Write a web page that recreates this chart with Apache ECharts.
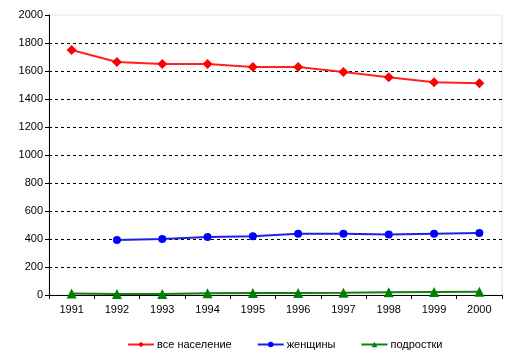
<!DOCTYPE html>
<html><head><meta charset="utf-8">
<script src="https://cdn.jsdelivr.net/npm/echarts@6/dist/echarts.min.js"></script>
<style>html,body{margin:0;padding:0;background:#fff}#c{width:517px;height:362px}</style>
</head><body><div id="c"></div>
<script>
const years = ['1991','1992','1993','1994','1995','1996','1997','1998','1999','2000'];
const allPop = [1750, 1664, 1650, 1650, 1628, 1628, 1593, 1555, 1519, 1512];
const women = [null, 393, 400, 414, 420, 438, 438, 433, 438, 443];
const teens = [10, 8, 8, 12, 14, 15, 16, 20, 22, 24];
const names = ['все население', 'женщины', 'подростки'];

const font = 'Liberation Sans, Arial, sans-serif';
const chart = echarts.init(document.getElementById('c'), null, {renderer: 'canvas'});
chart.setOption({
  animation: false,
  backgroundColor: '#fff',
  grid: {left: 49, right: 15, top: 15, bottom: 67, show: true, borderColor: '#e4e4e4', borderWidth: 1, backgroundColor: 'transparent'},
  legend: {
    top: 339, left: 127, itemWidth: 26, itemHeight: 7, itemGap: 25,
    padding: 0,
    textStyle: {fontFamily: font, fontSize: 11, color: '#000', padding: [0, 0, 0, -2]},
    data: names
  },
  xAxis: {
    type: 'category', data: years, boundaryGap: true,
    axisLine: {lineStyle: {color: '#000', width: 1}},
    axisTick: {show: true, length: 4, lineStyle: {color: '#000'}},
    axisLabel: {fontFamily: font, fontSize: 11, color: '#000', margin: 9},
    splitLine: {show: false}
  },
  yAxis: {
    type: 'value', min: 0, max: 2000, interval: 200,
    axisLine: {show: true, lineStyle: {color: '#000', width: 1}},
    axisTick: {show: true, length: 4, lineStyle: {color: '#000'}},
    axisLabel: {fontFamily: font, fontSize: 11, color: '#000', margin: 6, formatter: v => String(v)},
    splitLine: {show: true, showMaxLine: false, lineStyle: {color: '#000', type: [3, 3], width: 1}}
  },
  series: [
    {name: names[0], type: 'line', data: allPop, symbol: 'diamond', symbolSize: 10,
     itemStyle: {color: '#ff0000'}, lineStyle: {color: '#ff2020', width: 2}},
    {name: names[1], type: 'line', data: women, symbol: 'circle', symbolSize: 8,
     itemStyle: {color: '#0000ff'}, lineStyle: {color: '#2020e0', width: 2}},
    {name: names[2], type: 'line', data: teens, symbol: 'triangle', symbolSize: 10,
     itemStyle: {color: '#008000'}, lineStyle: {color: '#108010', width: 2}}
  ]
});
</script></body></html>
